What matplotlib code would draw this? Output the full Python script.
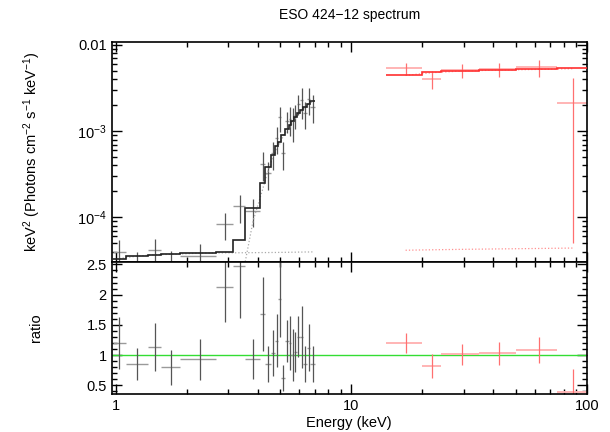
import numpy as np
import matplotlib
matplotlib.use("Agg")
import matplotlib.pyplot as plt
from matplotlib.ticker import FixedLocator, LogLocator, MultipleLocator, NullFormatter, FuncFormatter

plt.rcParams['font.family'] = ['Liberation Sans', 'DejaVu Sans']
plt.rcParams['mathtext.fontset'] = 'custom'
plt.rcParams['mathtext.rm'] = 'Liberation Sans'
plt.rcParams['mathtext.default'] = 'regular'

# --- low energy spectrum (black) ---
blk_edges = [0.97, 1.10, 1.37, 1.55, 1.88, 2.67, 3.16, 3.55, 4.10, 4.30, 4.54, 4.75,
             4.90, 5.03, 5.22, 5.44, 5.57, 5.71, 5.87, 6.06, 6.26, 6.47, 6.70, 7.00]
blk_model = [3.32e-5, 3.55e-5, 3.68e-5, 3.72e-5, 3.86e-5, 3.96e-5, 5.4e-5, 1.29e-4,
             2.49e-4, 3.80e-4, 5.35e-4, 6.68e-4, 7.5e-4, 8.98e-4, 1.07e-3, 1.17e-3,
             1.31e-3, 1.46e-3, 1.61e-3, 1.75e-3, 1.91e-3, 2.09e-3, 2.26e-3]
blk_data = [3.98e-5, 3.02e-5, 4.16e-5, 2.98e-5, 3.59e-5, 8.40e-5, 1.34e-4, 1.20e-4,
            4.18e-4, 3.23e-4, 5.56e-4, 8.28e-4, 1.45e-3, 5.57e-4, 1.32e-3, 1.40e-3,
            1.31e-3, 1.53e-3, 2.09e-3, 2.28e-3, 1.62e-3, 2.34e-3, 1.92e-3]
blk_err = [1.43e-5, 0.96e-5, 1.47e-5, 1.08e-5, 1.31e-5, 2.9e-5, 4.7e-5, 4.3e-5,
           1.52e-4, 1.14e-4, 2.0e-4, 2.9e-4, 4.7e-4, 2.0e-4, 3.7e-4, 5.3e-4,
           5.6e-4, 4.8e-4, 5.5e-4, 8.9e-4, 5.7e-4, 8.2e-4, 6.8e-4]
blk_pl = [3.32e-5, 3.55e-5, 3.68e-5, 3.72e-5, 3.84e-5, 3.87e-5, 3.88e-5, 3.89e-5,
          3.90e-5, 3.90e-5, 3.91e-5, 3.91e-5, 3.92e-5, 3.92e-5, 3.93e-5, 3.93e-5,
          3.94e-5, 3.94e-5, 3.95e-5, 3.95e-5, 3.96e-5, 3.96e-5, 3.97e-5]
blk_abs = [np.nan, np.nan, np.nan, np.nan, np.nan, np.nan, 1.4e-5, 9.0e-5,
           2.1e-4, 3.4e-4, 4.96e-4, 6.29e-4, 7.11e-4, 8.59e-4, 1.03e-3, 1.13e-3,
           1.27e-3, 1.42e-3, 1.57e-3, 1.71e-3, 1.87e-3, 2.05e-3, 2.22e-3]
blk_ratio = [1.20, 0.85, 1.13, 0.80, 0.93, 2.12, 2.48, 0.93, 1.68, 0.85, 1.04, 1.24,
             1.93, 0.62, 1.23, 1.20, 1.00, 1.05, 1.30, 1.30, 0.85, 1.12, 0.85]
blk_ratio_err = [0.43, 0.27, 0.40, 0.29, 0.34, 0.58, 0.87, 0.33, 0.61, 0.30, 0.38, 0.44,
                 0.63, 0.22, 0.35, 0.45, 0.43, 0.33, 0.34, 0.51, 0.30, 0.39, 0.30]

# --- high energy spectrum (red) ---
red_edges = [14, 20, 24, 35, 50, 75, 100]
red_model = [4.48e-3, 4.81e-3, 5.03e-3, 5.16e-3, 5.25e-3, 5.35e-3]
red_data = [5.35e-3, 4.02e-3, 5.10e-3, 5.25e-3, 5.50e-3, 2.10e-3]
red_err = [0.85e-3, 0.95e-3, 0.95e-3, 0.95e-3, 1.2e-3, 2.05e-3]
red_pl = [4.15e-5, 4.2e-5, 4.25e-5, 4.3e-5, 4.35e-5, 4.4e-5]
red_abs = [4.44e-3, 4.77e-3, 4.99e-3, 5.12e-3, 5.21e-3, 5.31e-3]
red_ratio = [1.20, 0.82, 1.01, 1.03, 1.08, 0.39]
red_ratio_err = [0.17, 0.20, 0.18, 0.19, 0.22, 0.38]


def centers(edges):
    e = np.array(edges)
    c = 0.5 * (e[:-1] + e[1:])
    return c, c - e[:-1], e[1:] - c


bc, blo, bhi = centers(blk_edges)
rc, rlo, rhi = centers(red_edges)

fig = plt.figure(figsize=(6.1, 4.32), dpi=100)
ax1 = fig.add_axes([0.183, 0.3935, 0.779, 0.509])
ax2 = fig.add_axes([0.183, 0.088, 0.779, 0.3055], sharex=ax1)

# upper panel
ax1.errorbar(bc, blk_data, xerr=[blo, bhi], fmt='none', ecolor='#9a9a9a', elinewidth=1.0)
ax1.errorbar(bc, blk_data, yerr=blk_err, fmt='none', ecolor='#555555', elinewidth=0.9)
ax1.plot(bc, blk_pl, ':', color='#aaaaaa', lw=0.9)
ax1.plot(bc, blk_abs, ':', color='#aaaaaa', lw=0.9)
ax1.stairs(blk_model, blk_edges, baseline=None, color='#222222', lw=1.2, zorder=3)

ax1.errorbar(rc, red_data, xerr=[rlo, rhi], fmt='none', ecolor='#ffb4b4', elinewidth=1.4)
ax1.errorbar(rc, red_data, yerr=red_err, fmt='none', ecolor='#ff7070', elinewidth=0.9)
ax1.plot(rc, red_pl, ':', color='#ff9090', lw=0.9)
ax1.plot(rc, red_abs, ':', color='#ff9090', lw=0.9)
ax1.stairs(red_model, red_edges, baseline=None, color='#ff3030', lw=1.2, zorder=3)

ax1.set_xscale('log')
ax1.set_yscale('log')
ax1.set_xlim(0.96, 100)
ax1.set_ylim(3.03e-5, 0.0108)
ax1.yaxis.set_major_locator(FixedLocator([1e-4, 1e-3, 1e-2]))
ax1.set_yticklabels(['10$^{-4}$', '10$^{-3}$', '0.01'])
ax1.yaxis.set_minor_locator(LogLocator(base=10, subs=np.arange(2, 10)))
ax1.yaxis.set_minor_formatter(NullFormatter())
ax1.set_ylabel('keV$^{2}$ (Photons cm$^{-2}$ s$^{-1}$ keV$^{-1}$)', fontsize=10.5)
ax1.yaxis.set_label_coords(-0.145, 0.5)
ax1.tick_params(labelbottom=False)
ax1.set_title('ESO 424\u221212 spectrum', fontsize=10, pad=17)

# lower panel
ax2.axhline(1.0, color='#33dd33', lw=1.0)
ax2.errorbar(bc, blk_ratio, xerr=[blo, bhi], fmt='none', ecolor='#9a9a9a', elinewidth=1.0)
ax2.errorbar(bc, blk_ratio, yerr=blk_ratio_err, fmt='none', ecolor='#555555', elinewidth=0.9)
ax2.errorbar(rc, red_ratio, xerr=[rlo, rhi], fmt='none', ecolor='#ffb4b4', elinewidth=1.4)
ax2.errorbar(rc, red_ratio, yerr=red_ratio_err, fmt='none', ecolor='#ff7070', elinewidth=0.9)
ax2.set_ylim(0.355, 2.54)
ax2.yaxis.set_major_locator(MultipleLocator(0.5))
ax2.yaxis.set_minor_locator(MultipleLocator(0.1))
ax2.yaxis.set_major_formatter(FuncFormatter(lambda v, p: '%g' % v))
ax2.set_ylabel('ratio', fontsize=10.5)
ax2.yaxis.set_label_coords(-0.145, 0.5)
ax2.set_xlabel('Energy (keV)', fontsize=10.5, labelpad=2)

ax2.xaxis.set_major_locator(FixedLocator([1, 10, 100]))
ax2.xaxis.set_major_formatter(FuncFormatter(lambda v, p: '%g' % v))
ax2.xaxis.set_minor_locator(LogLocator(base=10, subs=np.arange(2, 10)))
ax2.xaxis.set_minor_formatter(NullFormatter())

for ax in (ax1, ax2):
    for s in ax.spines.values():
        s.set_linewidth(1.2)
    ax.tick_params(which='both', direction='in', top=True, right=True, labelsize=10.5, width=1.0)
    ax.tick_params(which='major', length=7)
    ax.tick_params(which='minor', length=3.5)

fig.savefig('out.png', dpi=100)
